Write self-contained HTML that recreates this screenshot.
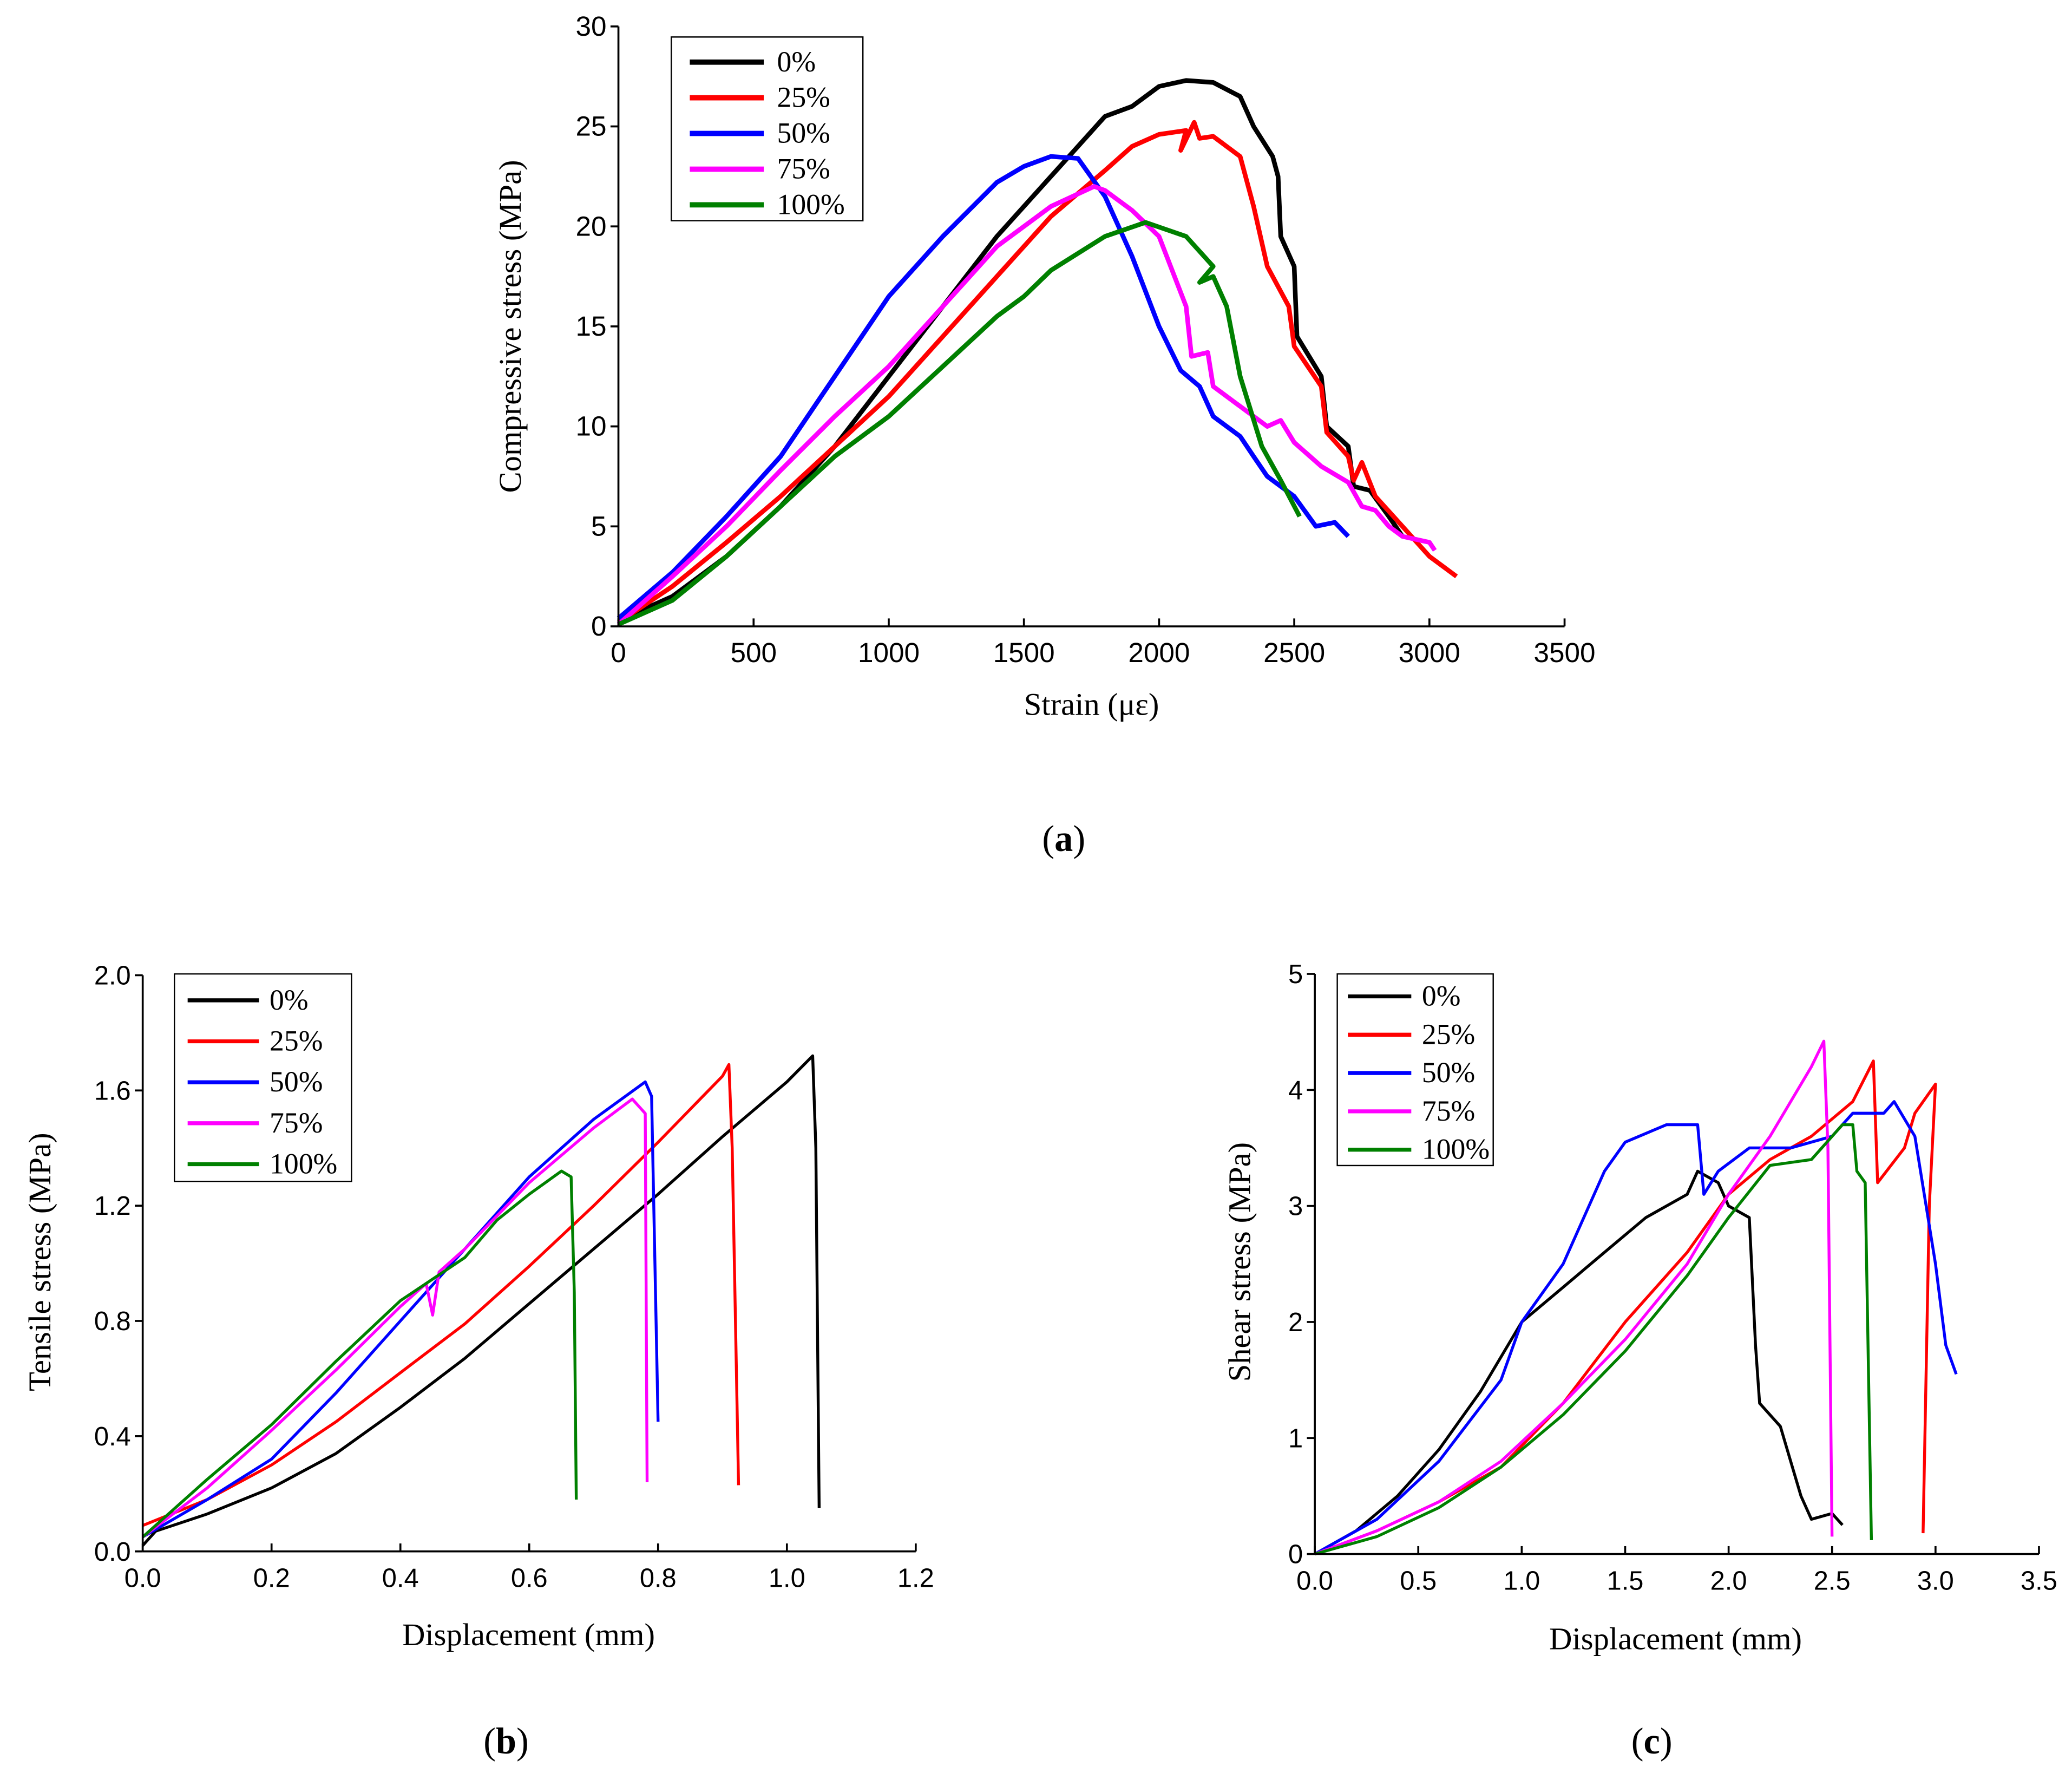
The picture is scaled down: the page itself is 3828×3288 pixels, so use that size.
<!DOCTYPE html>
<html><head><meta charset="utf-8"><style>
html,body{margin:0;padding:0;background:#fff;}
svg{display:block;}
text{font-family:"Liberation Serif",serif;fill:#000;}
.tk{font-family:"Liberation Sans",sans-serif;}
</style></head><body>
<svg id="fig" width="3828" height="3288" viewBox="0 0 1568 1347" preserveAspectRatio="none" xmlns="http://www.w3.org/2000/svg"></svg>
<script>
const seriesNames=["0%","25%","50%","75%","100%"];
const colors=["#000000","#ff0000","#0000ff","#ff00ff","#008000"];
// Panel a: strain (µε), compressive stress (MPa)
const aX0=[0,200,400,600,800,1000,1200,1400,1600,1800,1900,2000,2100,2200,2300,2350,2420,2440,2450,2500,2510,2600,2620,2700,2720,2780,2850,2900];
const aY0=[0.3,1.5,3.5,6,9,12.5,16,19.5,22.5,25.5,26,27,27.3,27.2,26.5,25,23.5,22.5,19.5,18,14.5,12.5,10,9,7,6.8,5.5,4.5];
const aX1=[0,200,400,600,800,1000,1200,1400,1600,1800,1900,2000,2100,2080,2130,2150,2200,2300,2350,2400,2480,2500,2600,2620,2700,2720,2750,2800,2900,3000,3100];
const aY1=[0.2,2,4.2,6.5,9,11.5,14.5,17.5,20.5,22.8,24,24.6,24.8,23.8,25.2,24.4,24.5,23.5,21,18,16,14,12,9.7,8.5,7.3,8.2,6.5,5,3.5,2.5];
const aX2=[0,200,400,600,750,800,1000,1200,1400,1500,1600,1700,1800,1900,2000,2080,2150,2200,2300,2350,2400,2500,2580,2650,2700];
const aY2=[0.4,2.7,5.5,8.5,11.5,12.5,16.5,19.5,22.2,23,23.5,23.4,21.5,18.5,15,12.8,12,10.5,9.5,8.5,7.5,6.5,5,5.2,4.5];
const aX3=[0,200,400,600,800,1000,1200,1400,1600,1760,1800,1900,2000,2100,2120,2180,2200,2300,2400,2450,2500,2600,2700,2750,2800,2850,2900,3000,3020];
const aY3=[0.1,2.5,5,7.8,10.5,13,16,19,21,22,21.8,20.8,19.5,16,13.5,13.7,12,11,10,10.3,9.2,8,7.2,6,5.8,5,4.5,4.2,3.8];
const aX4=[0,200,400,600,800,1000,1200,1400,1500,1600,1800,1950,2100,2200,2150,2200,2250,2300,2380,2450,2520];
const aY4=[0.1,1.3,3.5,6,8.5,10.5,13,15.5,16.5,17.8,19.5,20.2,19.5,18,17.2,17.5,16,12.5,9,7.3,5.5];
const aXTicks=[0,500,1000,1500,2000,2500,3000,3500];
const aYTicks=[0,5,10,15,20,25,30];
// Panel b: displacement (mm), tensile stress (MPa)
const bX0=[0,0.02,0.1,0.2,0.3,0.4,0.5,0.6,0.7,0.8,0.9,1.0,1.04,1.045,1.05];
const bY0=[0.02,0.07,0.13,0.22,0.34,0.5,0.67,0.86,1.05,1.24,1.44,1.63,1.72,1.4,0.15];
const bX1=[0,0.1,0.2,0.3,0.4,0.5,0.6,0.7,0.8,0.9,0.91,0.915,0.925];
const bY1=[0.09,0.18,0.3,0.45,0.62,0.79,0.99,1.2,1.42,1.65,1.69,1.4,0.23];
const bX2=[0,0.1,0.2,0.3,0.4,0.5,0.6,0.7,0.78,0.79,0.8];
const bY2=[0.05,0.18,0.32,0.55,0.8,1.05,1.3,1.5,1.63,1.58,0.45];
const bX3=[0,0.1,0.2,0.3,0.4,0.44,0.45,0.46,0.5,0.6,0.7,0.76,0.78,0.783];
const bY3=[0.05,0.22,0.42,0.63,0.85,0.93,0.82,0.97,1.05,1.28,1.47,1.57,1.52,0.24];
const bX4=[0,0.1,0.2,0.3,0.4,0.5,0.55,0.6,0.65,0.665,0.67,0.673];
const bY4=[0.05,0.25,0.44,0.66,0.87,1.02,1.15,1.24,1.32,1.3,0.9,0.18];
const bXTicks=["0.0","0.2","0.4","0.6","0.8","1.0","1.2"];
const bYTicks=["0.0","0.4","0.8","1.2","1.6","2.0"];
// Panel c: displacement (mm), shear stress (MPa)
const cX0=[0,0.2,0.4,0.6,0.8,1.0,1.2,1.4,1.6,1.8,1.85,1.95,2.0,2.1,2.13,2.15,2.25,2.3,2.35,2.4,2.5,2.55];
const cY0=[0,0.2,0.5,0.9,1.4,2.0,2.3,2.6,2.9,3.1,3.3,3.2,3.0,2.9,1.8,1.3,1.1,0.8,0.5,0.3,0.35,0.25];
const cX1=[0,0.3,0.6,0.9,1.2,1.5,1.8,2.0,2.2,2.4,2.6,2.7,2.72,2.85,2.9,3.0,2.97,2.94];
const cY1=[0,0.2,0.45,0.75,1.3,2.0,2.6,3.1,3.4,3.6,3.9,4.25,3.2,3.5,3.8,4.05,3.0,0.18];
const cX2=[0,0.3,0.6,0.9,1.0,1.2,1.4,1.5,1.7,1.85,1.88,1.95,2.1,2.3,2.5,2.6,2.75,2.8,2.9,3.0,3.05,3.1];
const cY2=[0,0.3,0.8,1.5,2.0,2.5,3.3,3.55,3.7,3.7,3.1,3.3,3.5,3.5,3.6,3.8,3.8,3.9,3.6,2.5,1.8,1.55];
const cX3=[0,0.3,0.6,0.9,1.2,1.5,1.8,2.0,2.2,2.4,2.46,2.48,2.5];
const cY3=[0,0.2,0.45,0.8,1.3,1.85,2.5,3.1,3.6,4.2,4.42,3.5,0.15];
const cX4=[0,0.3,0.6,0.9,1.2,1.5,1.8,2.0,2.2,2.4,2.55,2.6,2.62,2.66,2.69];
const cY4=[0,0.15,0.4,0.75,1.2,1.75,2.4,2.9,3.35,3.4,3.7,3.7,3.3,3.2,0.12];
const cXTicks=["0.0","0.5","1.0","1.5","2.0","2.5","3.0","3.5"];
const cYTicks=["0","1","2","3","4","5"];

const NS="http://www.w3.org/2000/svg";
const svg=document.getElementById('fig');
function mk(tag,attrs,parent){const e=document.createElementNS(NS,tag);for(const k in attrs)e.setAttribute(k,attrs[k]);(parent||svg).appendChild(e);return e;}
function txt(s,attrs,parent){const e=mk('text',attrs,parent);e.textContent=s;return e;}

function panel(id,cfg){
  const g=mk('g',{});
  
  
  const sx=v=>cfg.x0+(v-cfg.xmin)/(cfg.xmax-cfg.xmin)*(cfg.x1-cfg.x0);
  const sy=v=>cfg.y0-(v-cfg.ymin)/(cfg.ymax-cfg.ymin)*(cfg.y0-cfg.y1);
  // series
  cfg.xs.forEach((xs,i)=>{
    const ys=cfg.ys[i];
    const pts=xs.map((x,j)=>sx(x).toFixed(1)+','+sy(ys[j]).toFixed(1)).join(' ');
    const p=mk('polyline',{points:pts,fill:'none',stroke:colors[i],'stroke-width':cfg.lw,'stroke-linejoin':'round'},g);
    
    
  });
  // axes
  const ax=mk('g',{stroke:'#000','stroke-width':1.5},g);
  
  
  mk('line',{x1:cfg.x0,y1:cfg.y0,x2:cfg.x1,y2:cfg.y0},ax);
  mk('line',{x1:cfg.x0,y1:cfg.y0,x2:cfg.x0,y2:cfg.y1},ax);
  cfg.xt.forEach(t=>{const x=sx(+t);mk('line',{x1:x,y1:cfg.y0,x2:x,y2:cfg.y0-6},ax);
    const l=txt(String(t),{x:x,y:cfg.y0+27,'text-anchor':'middle','font-size':cfg.fs,class:cfg.tkc},g);
    
    });
  cfg.yt.forEach(t=>{const y=sy(+t);mk('line',{x1:cfg.x0,y1:y,x2:cfg.x0-6,y2:y},ax);
    const l=txt(String(t),{x:cfg.x0-9,y:y+7,'text-anchor':'end','font-size':cfg.fs,class:cfg.tkc},g);
    
    });
  const xl=txt(cfg.xlab,{x:cfg.xlx,y:cfg.xly,'text-anchor':'middle','font-size':24},g);
  
  
  const yl=txt(cfg.ylab,{x:0,y:0,'text-anchor':'middle','font-size':24,transform:`translate(${cfg.ylx},${cfg.yly}) rotate(-90)`},g);
  
  
  // legend
  const L=cfg.leg;
  const lg=mk('g',{},g);
  
  
  mk('rect',{x:L.x,y:L.y,width:L.w,height:L.h,fill:'#fff',stroke:'#000','stroke-width':1},lg);
  seriesNames.forEach((n,i)=>{
    const y=L.ey0+i*L.dy;
    const e=mk('g',{},lg);
    
    
    mk('line',{x1:L.lx1,y1:y,x2:L.lx2,y2:y,stroke:colors[i],'stroke-width':cfg.llw},e);
    txt(n,{x:L.tx,y:y+7,'font-size':L.fs},e);
  });
  const cap=txt('',{x:cfg.capx,y:cfg.capy,'text-anchor':'middle','font-size':28},g);
  cap.innerHTML='(<tspan font-weight="bold">'+id+'</tspan>)';
  
  
}

panel('a',{x0:468,x1:1184,y0:474,y1:20,xmin:0,xmax:3500,ymin:0,ymax:30,lw:3.5,llw:4,fs:21,tkc:'tk',
  xs:[aX0,aX1,aX2,aX3,aX4],ys:[aY0,aY1,aY2,aY3,aY4],xt:aXTicks,yt:aYTicks,
  xlab:'Strain (με)',xlx:826,xly:541,ylab:'Compressive stress (MPa)',ylx:394,yly:247,
  leg:{x:508,y:28,w:145,h:139,ey0:47,dy:27,lx1:522,lx2:578,tx:588,fs:22},capx:805,capy:644});
panel('b',{x0:108,x1:693,y0:1174,y1:738,xmin:0,xmax:1.2,ymin:0,ymax:2,lw:2.2,llw:3,fs:20,tkc:'tk',
  xs:[bX0,bX1,bX2,bX3,bX4],ys:[bY0,bY1,bY2,bY3,bY4],xt:bXTicks,yt:bYTicks,
  xlab:'Displacement (mm)',xlx:400,xly:1245,ylab:'Tensile stress (MPa)',ylx:38,yly:955,
  leg:{x:132,y:737,w:134,h:157,ey0:757,dy:31,lx1:142,lx2:196,tx:204,fs:22},capx:383,capy:1327});
panel('c',{x0:995,x1:1543,y0:1176,y1:737,xmin:0,xmax:3.5,ymin:0,ymax:5,lw:2.2,llw:3,fs:20,tkc:'tk',
  xs:[cX0,cX1,cX2,cX3,cX4],ys:[cY0,cY1,cY2,cY3,cY4],xt:cXTicks,yt:cYTicks,
  xlab:'Displacement (mm)',xlx:1268,xly:1248,ylab:'Shear stress (MPa)',ylx:946,yly:955,
  leg:{x:1012,y:737,w:118,h:145,ey0:754,dy:29,lx1:1020,lx2:1068,tx:1076,fs:22},capx:1250,capy:1327});
</script>
</body></html>
